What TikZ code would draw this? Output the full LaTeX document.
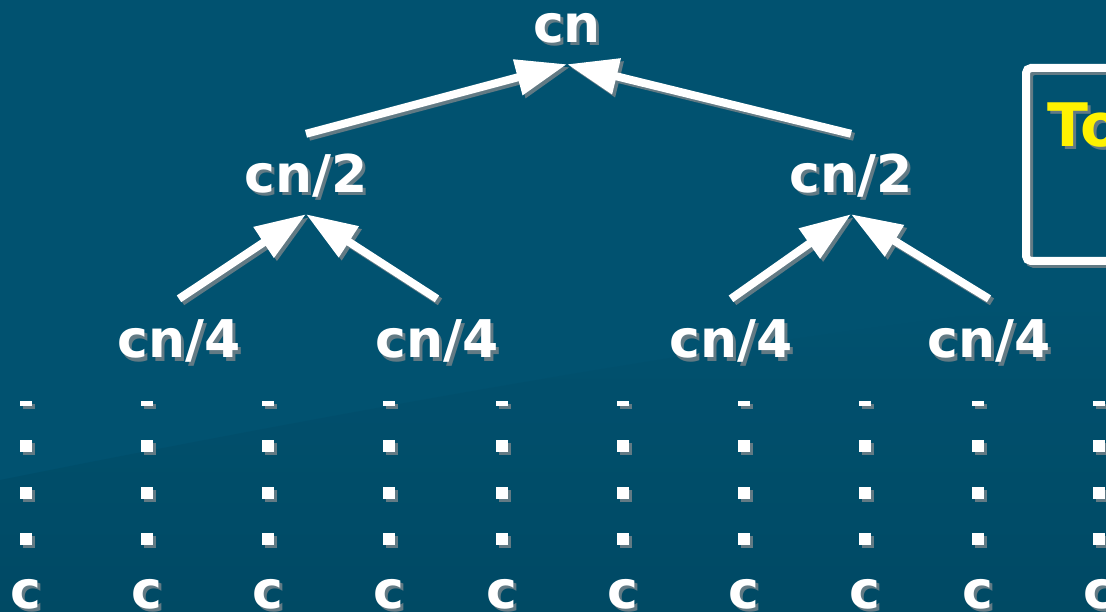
\documentclass[tikz,border=0pt]{standalone}
\usepackage{fontspec}
\setmainfont{DejaVu Sans}
\usetikzlibrary{arrows.meta}
\definecolor{slidetop}{RGB}{1,82,112}
\definecolor{slidebottom}{RGB}{0,72,98}
\definecolor{shadowgray}{RGB}{98,122,132}
\newcommand*\mylabel[3]{%
    \node[lbl,text=shadowgray] at ([shift={(3,3)}]#2) {#3};
    \node[lbl] (#1) at (#2) {#3};
}
\newcommand*\myarrow[2]{%
    \draw[arr,shadowgray] ([shift={(3,3)}]#1) -- ([shift={(3,3)}]#2);
    \draw[arr] (#1) -- (#2);
}

\begin{document}
\begin{tikzpicture}[x=1pt,y=-1pt,
    lbl/.style={font=\bfseries\fontsize{52}{60}\selectfont,text=white,anchor=base,
        text height=38pt,text depth=0pt,inner xsep=0pt,inner ysep=21pt},
    arr/.style={line width=8pt,white,-{Triangle[length=51pt,width=35pt]}},
    notebox/.style={draw=white,line width=8pt,rounded corners=5pt,anchor=north west,
        minimum width=280pt,minimum height=193pt,inner sep=0pt}]
\useasboundingbox (0,0) rectangle (1106,612);
\clip (0,0) rectangle (1106,612);
\fill[slidetop] (0,0) rectangle (1106,612);
\shade[top color=slidetop,bottom color=slidebottom,opacity=.8]
    (0,480) .. controls (400,400) and (800,330) .. (1106,300) -- (1106,612) -- (0,612) -- cycle;

% the tree
\mylabel{cn}{567,43}{cn}
\mylabel{half1}{306,193}{cn/2}
\mylabel{half2}{851,193}{cn/2}
\mylabel{quart1}{179,358}{cn/4}
\mylabel{quart2}{437,358}{cn/4}
\mylabel{quart3}{731,358}{cn/4}
\mylabel{quart4}{989,358}{cn/4}

\myarrow{half1.north}{cn.south}
\myarrow{half2.north}{cn.south}
\myarrow{quart1.north}{half1.south}
\myarrow{quart2.north}{half1.south}
\myarrow{quart3.north}{half2.south}
\myarrow{quart4.north}{half2.south}

% the dots and the leaves
\foreach \x [count=\i] in {26,147,268,389,502,623,744,865,978,1099} {
    \fill[shadowgray] (\x-3,404) rectangle +(12,5);
    \foreach \y in {440,487,533}
        \fill[shadowgray] (\x-3,\y+3) rectangle +(12,12);
    \fill[white] (\x-6,401) rectangle +(12,5);
    \foreach \y in {440,487,533}
        \fill[white] (\x-6,\y) rectangle +(12,12);
    \mylabel{leaf\i}{\x,608}{c}
}

% the box on the right
\node[notebox,draw=shadowgray] at (1025,67) {};
\node[notebox] (note) at (1022,64) {};
\node[font=\bfseries\fontsize{60}{70}\selectfont,text=shadowgray,anchor=base west,inner sep=0pt]
    at (1050,150) {To};
\node[font=\bfseries\fontsize{60}{70}\selectfont,text=yellow,anchor=base west,inner sep=0pt]
    (notetext) at (1047,147) {To};
\end{tikzpicture}
\end{document}
